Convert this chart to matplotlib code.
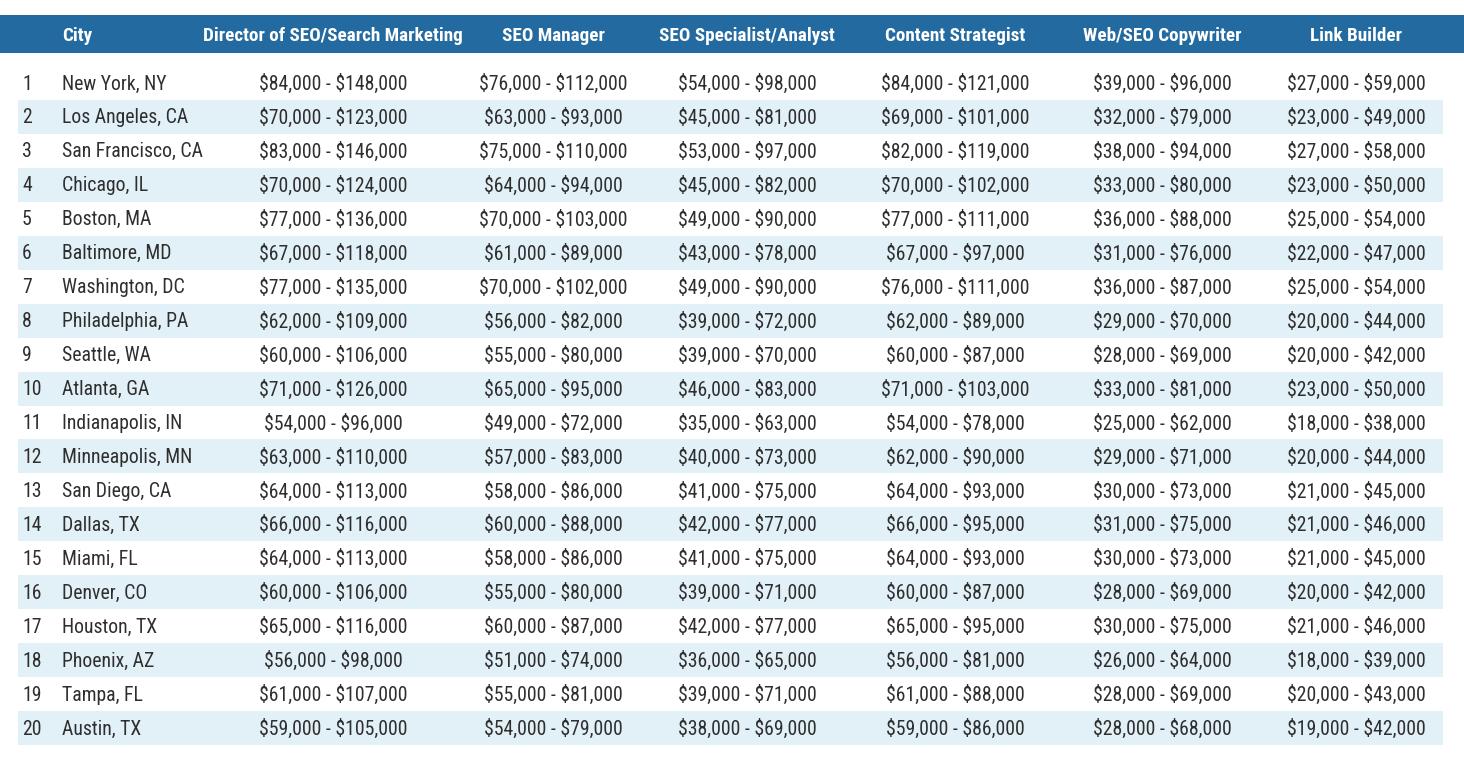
import os
import matplotlib.pyplot as plt
import matplotlib.font_manager as fm
from matplotlib.patches import Rectangle

# table content
headers = ["City", "Director of SEO/Search Marketing", "SEO Manager",
           "SEO Specialist/Analyst", "Content Strategist",
           "Web/SEO Copywriter", "Link Builder"]

cities = ["New York, NY", "Los Angeles, CA", "San Francisco, CA", "Chicago, IL",
          "Boston, MA", "Baltimore, MD", "Washington, DC", "Philadelphia, PA",
          "Seattle, WA", "Atlanta, GA", "Indianapolis, IN", "Minneapolis, MN",
          "San Diego, CA", "Dallas, TX", "Miami, FL", "Denver, CO",
          "Houston, TX", "Phoenix, AZ", "Tampa, FL", "Austin, TX"]

director = ["$84,000 - $148,000", "$70,000 - $123,000", "$83,000 - $146,000",
            "$70,000 - $124,000", "$77,000 - $136,000", "$67,000 - $118,000",
            "$77,000 - $135,000", "$62,000 - $109,000", "$60,000 - $106,000",
            "$71,000 - $126,000", "$54,000 - $96,000", "$63,000 - $110,000",
            "$64,000 - $113,000", "$66,000 - $116,000", "$64,000 - $113,000",
            "$60,000 - $106,000", "$65,000 - $116,000", "$56,000 - $98,000",
            "$61,000 - $107,000", "$59,000 - $105,000"]

manager = ["$76,000 - $112,000", "$63,000 - $93,000", "$75,000 - $110,000",
           "$64,000 - $94,000", "$70,000 - $103,000", "$61,000 - $89,000",
           "$70,000 - $102,000", "$56,000 - $82,000", "$55,000 - $80,000",
           "$65,000 - $95,000", "$49,000 - $72,000", "$57,000 - $83,000",
           "$58,000 - $86,000", "$60,000 - $88,000", "$58,000 - $86,000",
           "$55,000 - $80,000", "$60,000 - $87,000", "$51,000 - $74,000",
           "$55,000 - $81,000", "$54,000 - $79,000"]

specialist = ["$54,000 - $98,000", "$45,000 - $81,000", "$53,000 - $97,000",
              "$45,000 - $82,000", "$49,000 - $90,000", "$43,000 - $78,000",
              "$49,000 - $90,000", "$39,000 - $72,000", "$39,000 - $70,000",
              "$46,000 - $83,000", "$35,000 - $63,000", "$40,000 - $73,000",
              "$41,000 - $75,000", "$42,000 - $77,000", "$41,000 - $75,000",
              "$39,000 - $71,000", "$42,000 - $77,000", "$36,000 - $65,000",
              "$39,000 - $71,000", "$38,000 - $69,000"]

content = ["$84,000 - $121,000", "$69,000 - $101,000", "$82,000 - $119,000",
           "$70,000 - $102,000", "$77,000 - $111,000", "$67,000 - $97,000",
           "$76,000 - $111,000", "$62,000 - $89,000", "$60,000 - $87,000",
           "$71,000 - $103,000", "$54,000 - $78,000", "$62,000 - $90,000",
           "$64,000 - $93,000", "$66,000 - $95,000", "$64,000 - $93,000",
           "$60,000 - $87,000", "$65,000 - $95,000", "$56,000 - $81,000",
           "$61,000 - $88,000", "$59,000 - $86,000"]

copywriter = ["$39,000 - $96,000", "$32,000 - $79,000", "$38,000 - $94,000",
              "$33,000 - $80,000", "$36,000 - $88,000", "$31,000 - $76,000",
              "$36,000 - $87,000", "$29,000 - $70,000", "$28,000 - $69,000",
              "$33,000 - $81,000", "$25,000 - $62,000", "$29,000 - $71,000",
              "$30,000 - $73,000", "$31,000 - $75,000", "$30,000 - $73,000",
              "$28,000 - $69,000", "$30,000 - $75,000", "$26,000 - $64,000",
              "$28,000 - $69,000", "$28,000 - $68,000"]

link_builder = ["$27,000 - $59,000", "$23,000 - $49,000", "$27,000 - $58,000",
                "$23,000 - $50,000", "$25,000 - $54,000", "$22,000 - $47,000",
                "$25,000 - $54,000", "$20,000 - $44,000", "$20,000 - $42,000",
                "$23,000 - $50,000", "$18,000 - $38,000", "$20,000 - $44,000",
                "$21,000 - $45,000", "$21,000 - $46,000", "$21,000 - $45,000",
                "$20,000 - $42,000", "$21,000 - $46,000", "$18,000 - $39,000",
                "$20,000 - $43,000", "$19,000 - $42,000"]

salary_cols = [director, manager, specialist, content, copywriter, link_builder]

# layout (pixel coordinates)
W, H = 1464, 763
col_centers = [333, 553, 747, 955, 1162, 1356]
first_row_y = 84
row_step = 33.95
header_color = "#236aa0"
stripe_color = "#e2f0f7"
text_color = "#2e2e2e"


# look for a narrow / condensed face, the reference uses a condensed gothic
def pick_fonts():
    skip = ("Italic", "Oblique", "Light", "Thin", "Black", "Medium",
            "Extra", "Ultra", "Semi", "Demi", "Heavy", "Book")
    prefs = ["Liberation Sans Narrow", "Roboto Condensed", "DejaVu Sans",
             "Open Sans", "Noto Sans", "Arial Narrow"]
    found = {}
    for f in fm.fontManager.ttflist:
        base = os.path.basename(f.fname)
        if not ("Condensed" in base or "Narrow" in base):
            continue
        stem = base.replace("Condensed", "").replace("Narrow", "")
        if any(s in stem for s in skip):
            continue
        bold = "Bold" in stem
        key = (f.name, bold)
        found.setdefault(key, f.fname)
    for p in prefs:
        for (name, bold), path in found.items():
            if name.startswith(p) and not bold:
                bpath = None
                for (n2, b2), p2 in found.items():
                    if n2 == name and b2:
                        bpath = p2
                return path, bpath or path
    if found:
        regs = [v for (n, b), v in found.items() if not b]
        bolds = [v for (n, b), v in found.items() if b]
        if regs:
            return regs[0], (bolds[0] if bolds else regs[0])
    return None, None


reg_path, bold_path = pick_fonts()
if reg_path:
    body_fp = fm.FontProperties(fname=reg_path, size=14.2)
    head_fp = fm.FontProperties(fname=bold_path, size=13.8)
else:
    body_fp = fm.FontProperties(family="DejaVu Sans", size=12)
    head_fp = fm.FontProperties(family="DejaVu Sans", weight="bold", size=11)

fig = plt.figure(figsize=(W / 100, H / 100), dpi=100)
ax = fig.add_axes([0, 0, 1, 1])
ax.set_xlim(0, W)
ax.set_ylim(H, 0)
ax.axis("off")

# header band
ax.add_patch(Rectangle((0, 15), W, 38, color=header_color, lw=0))
ax.text(62, 36, headers[0], color="white", fontproperties=head_fp,
        ha="left", va="center", parse_math=False)
for x, h in zip(col_centers, headers[1:]):
    ax.text(x, 36, h, color="white", fontproperties=head_fp,
            ha="center", va="center", parse_math=False)

# rows
for i, city in enumerate(cities):
    y = first_row_y + i * row_step
    if i % 2 == 1:
        ax.add_patch(Rectangle((18, y - 1 - row_step / 2), 1425, row_step,
                               color=stripe_color, lw=0))
    ax.text(22, y, str(i + 1), color=text_color, fontproperties=body_fp,
            ha="left", va="center", parse_math=False)
    ax.text(62, y, city, color=text_color, fontproperties=body_fp,
            ha="left", va="center", parse_math=False)
    for x, col in zip(col_centers, salary_cols):
        ax.text(x, y, col[i], color=text_color, fontproperties=body_fp,
                ha="center", va="center", parse_math=False)

fig.savefig("out.png", dpi=100)
